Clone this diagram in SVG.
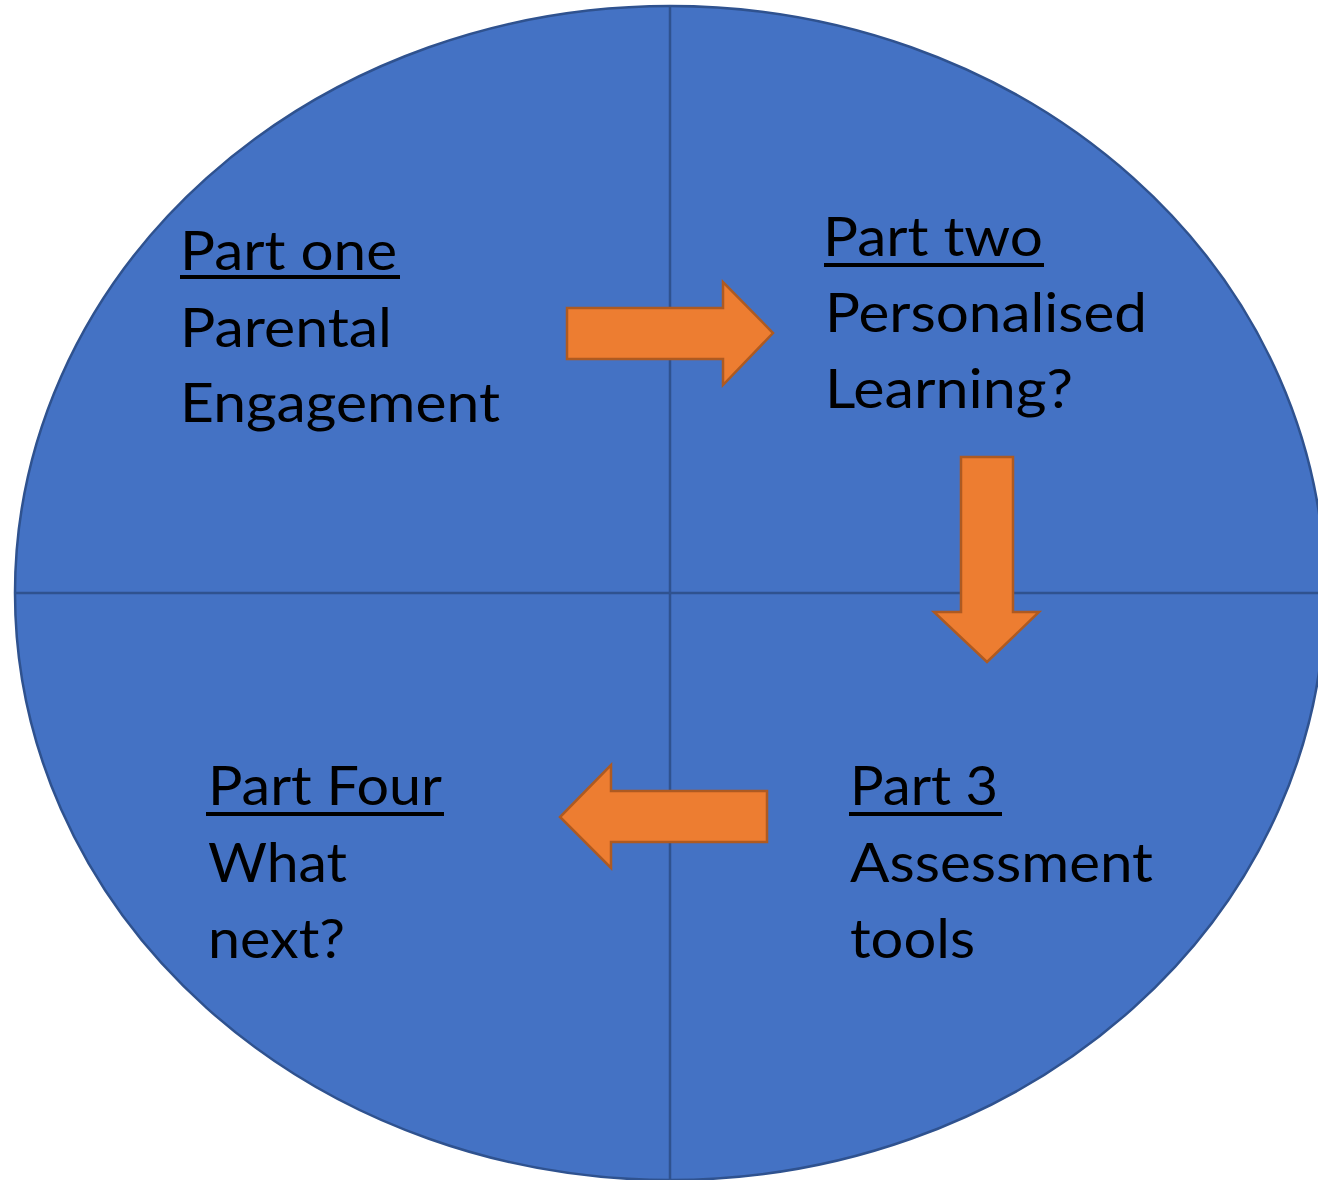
<svg xmlns="http://www.w3.org/2000/svg" width="1318" height="1180" viewBox="0 0 1318 1180">
<style>
.lbl{font-family:Lato,"Liberation Sans",sans-serif;font-size:55px;fill:#000}
.ul{stroke:#000;stroke-width:4}
.arrow{fill:#ED7D31;stroke:#AE5A21;stroke-width:2.5;stroke-linejoin:miter}
.div{stroke:#2F528F;stroke-width:2.5}
</style>
<rect width="1318" height="1180" fill="#fff"/>
<g id="circle">
<ellipse cx="670" cy="593" rx="655" ry="587" fill="#4472C4" stroke="#2F528F" stroke-width="2.5"/>
<line class="div" x1="670" y1="6" x2="670" y2="1180"/>
<line class="div" x1="15" y1="593" x2="1318" y2="593"/>
</g>
<g id="part1">
<text class="lbl" x="180" y="270" textLength="217" lengthAdjust="spacingAndGlyphs">Part one</text>
<line class="ul" x1="180" y1="277" x2="400" y2="277"/>
<text class="lbl" x="180" y="347" textLength="212" lengthAdjust="spacingAndGlyphs">Parental</text>
<text class="lbl" x="180" y="422" textLength="320" lengthAdjust="spacingAndGlyphs">Engagement</text>
</g>
<g id="part2">
<text class="lbl" x="823" y="256" textLength="220" lengthAdjust="spacingAndGlyphs">Part two</text>
<line class="ul" x1="824" y1="265" x2="1044" y2="265"/>
<text class="lbl" x="825" y="332" textLength="322" lengthAdjust="spacingAndGlyphs">Personalised</text>
<text class="lbl" x="825" y="408" textLength="248" lengthAdjust="spacingAndGlyphs">Learning?</text>
</g>
<g id="part3">
<text class="lbl" x="850" y="805" textLength="148" lengthAdjust="spacingAndGlyphs">Part 3</text>
<line class="ul" x1="849" y1="814" x2="1002" y2="814"/>
<text class="lbl" x="850" y="882" textLength="303" lengthAdjust="spacingAndGlyphs">Assessment</text>
<text class="lbl" x="850" y="958" textLength="125" lengthAdjust="spacingAndGlyphs">tools</text>
</g>
<g id="part4">
<text class="lbl" x="208" y="805" textLength="234" lengthAdjust="spacingAndGlyphs">Part Four</text>
<line class="ul" x1="206" y1="814" x2="444" y2="814"/>
<text class="lbl" x="208" y="882" textLength="139" lengthAdjust="spacingAndGlyphs">What</text>
<text class="lbl" x="208" y="958" textLength="137" lengthAdjust="spacingAndGlyphs">next?</text>
</g>
<g id="connectors">
<polygon class="arrow" points="567,308 723,308 723,282 773,333 723,385 723,359 567,359"/>
<polygon class="arrow" points="961,457 1013,457 1013,612 1039,612 987,662 934,612 961,612"/>
<polygon class="arrow" points="767,791 611,791 611,765 560,817 611,868 611,842 767,842"/>
</g>
</svg>
